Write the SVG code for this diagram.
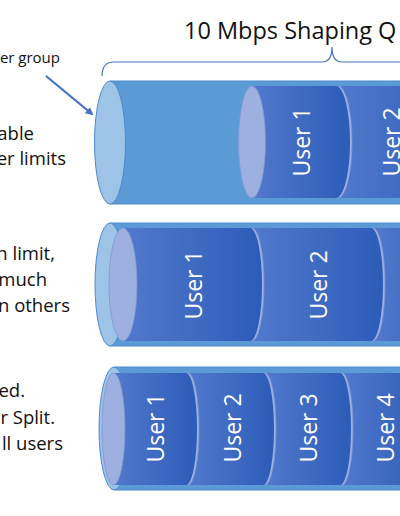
<svg xmlns="http://www.w3.org/2000/svg" width="400" height="516" viewBox="0 0 400 516">
<defs>
<linearGradient id="ug" x1="0" y1="0" x2="1" y2="0">
<stop offset="0" stop-color="#5279cc"/>
<stop offset="1" stop-color="#2c5cb8"/>
</linearGradient>
<marker id="ah" markerWidth="8" markerHeight="8" refX="6" refY="4" orient="auto" markerUnits="userSpaceOnUse" viewBox="0 0 8 8">
<path d="M0,0 L8,4 L0,8 Z" fill="#4472c4"/>
</marker>
</defs>
<style>
.lbl{font-family:"Open Sans","Liberation Sans",sans-serif;font-size:18.5px;fill:#111;text-anchor:end}
.ttl{font-family:"Open Sans","Liberation Sans",sans-serif;font-size:23.5px;fill:#111}
.tube{fill:#5b9bd5;stroke:#4d8ad0;stroke-width:1}
.tface{fill:#9dc3e6;stroke:#4d8ad0;stroke-width:1}
.ubody{fill:url(#ug)}
.uface{fill:#9db0e0;stroke:#7d98d6;stroke-width:0.8}
.ut{font-family:"Open Sans","Liberation Sans",sans-serif;font-size:23px;fill:#fff;text-anchor:middle}
.conn{stroke:#4472c4;fill:none}
</style>
<rect width="400" height="516" fill="#fff"/>

<g id="title"><text class="ttl" x="184" y="39">10 Mbps Shaping Q</text></g>

<g id="connectors">
<path class="conn" stroke-width="1.2" d="M102,76 Q102,62 114,62 L322,62 Q332,62 332,47 Q332,62 342,62 L560,62"/>
<line class="conn" stroke-width="2.2" x1="46" y1="76" x2="92" y2="114" marker-end="url(#ah)"/>
</g>

<g id="labels">
<text class="lbl" x="60" y="63" style="font-size:15px">er group</text>
<text class="lbl" x="34" y="140">able</text>
<text class="lbl" x="66" y="165">er limits</text>
<text class="lbl" x="55" y="260">n limit,</text>
<text class="lbl" x="47" y="286">much</text>
<text class="lbl" x="70" y="312">n others</text>
<text class="lbl" x="25" y="397">ed.</text>
<text class="lbl" x="55" y="424">r Split.</text>
<text class="lbl" x="63" y="450">ll users</text>
</g>

<g id="queue1">
<path class="tube" d="M110,81 H420 V204 H110 Z"/>
<ellipse class="tface" cx="110" cy="142.5" rx="15.5" ry="61.5"/>
<g id="q1-user2">
<path class="ubody" d="M338,86 H470 V198 H338 Z"/>
<ellipse class="uface" cx="338" cy="142" rx="14" ry="56"/>
<text class="ut" transform="translate(392,142) rotate(-90)" y="8">User 2</text>
</g>
<g id="q1-user1">
<path class="ubody" d="M252,86 H336 A14,56 0 0 1 336,198 H252 Z"/>
<ellipse class="uface" cx="252" cy="142" rx="13.5" ry="56"/>
<text class="ut" transform="translate(302,142) rotate(-90)" y="8">User 1</text>
</g>
</g>

<g id="queue2">
<path class="tube" d="M110,223 H420 V346 H110 Z"/>
<ellipse class="tface" cx="110" cy="284.5" rx="15" ry="61.5"/>
<g id="q2-user3">
<path class="ubody" d="M373,228 H470 V341 H373 Z"/>
<ellipse class="uface" cx="373" cy="284.5" rx="12" ry="56.5"/>
</g>
<g id="q2-user2">
<path class="ubody" d="M252,228 H371 A12,56.5 0 0 1 371,341 H252 Z"/>
<ellipse class="uface" cx="252" cy="284.5" rx="12" ry="56.5"/>
<text class="ut" transform="translate(319,285) rotate(-90)" y="8">User 2</text>
</g>
<g id="q2-user1">
<path class="ubody" d="M123,228 H250 A12,56.5 0 0 1 250,341 H123 Z"/>
<ellipse class="uface" cx="123" cy="284.5" rx="14" ry="56.5"/>
<text class="ut" transform="translate(194,285) rotate(-90)" y="8">User 1</text>
</g>
</g>

<g id="queue3">
<path class="tube" d="M114,367 H420 V490 H114 Z"/>
<ellipse class="tface" cx="114" cy="428.5" rx="15" ry="61.5"/>
<g id="q3-user5">
<path class="ubody" d="M419,373 H470 V485 H419 Z"/>
<ellipse class="uface" cx="419" cy="429" rx="11" ry="56"/>
</g>
<g id="q3-user4">
<path class="ubody" d="M342,373 H417 A11,56 0 0 1 417,485 H342 Z"/>
<ellipse class="uface" cx="342" cy="429" rx="11" ry="56"/>
<text class="ut" transform="translate(386,428) rotate(-90)" y="8">User 4</text>
</g>
<g id="q3-user3">
<path class="ubody" d="M265,373 H340 A11,56 0 0 1 340,485 H265 Z"/>
<ellipse class="uface" cx="265" cy="429" rx="11" ry="56"/>
<text class="ut" transform="translate(309,428) rotate(-90)" y="8">User 3</text>
</g>
<g id="q3-user2">
<path class="ubody" d="M188,373 H263 A11,56 0 0 1 263,485 H188 Z"/>
<ellipse class="uface" cx="188" cy="429" rx="11" ry="56"/>
<text class="ut" transform="translate(233,428) rotate(-90)" y="8">User 2</text>
</g>
<g id="q3-user1">
<path class="ubody" d="M113.5,373 H186 A11,56 0 0 1 186,485 H113.5 Z"/>
<ellipse class="uface" cx="113.5" cy="429" rx="11.5" ry="56"/>
<text class="ut" transform="translate(156,428) rotate(-90)" y="8">User 1</text>
</g>
</g>
</svg>
